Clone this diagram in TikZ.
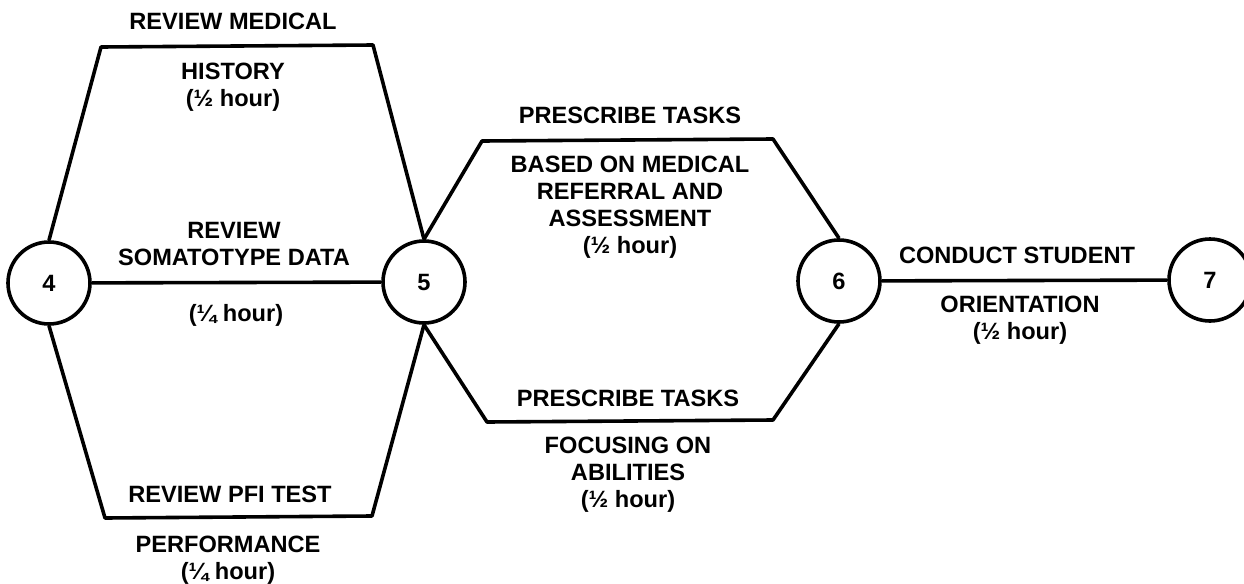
\documentclass[tikz,border=0pt]{standalone}
\usepackage{fontspec}
\setmainfont{Liberation Sans}

\begin{document}
\begin{tikzpicture}[
    x=0.5pt, y=-0.5pt,
    line width=1.8pt,
    line join=round,
    event/.style={circle, draw, minimum size=41pt, inner sep=0pt, font=\fontsize{11.8}{13.5}\selectfont\bfseries},
    act/.style={font=\fontsize{11.8}{13.5}\selectfont\bfseries, align=center, inner sep=0pt}
]

\useasboundingbox (0,0) rectangle (1244,584);

% Eventos
\node[event] (n4) at (49,283) {4};
\node[event] (n5) at (424,282) {5};
\node[event] (n6) at (839,281) {6};
\node[event] (n7) at (1210,280) {7};

% Cantos dos caminhos
\coordinate (a1) at (101,47);
\coordinate (a2) at (373,45);
\coordinate (b1) at (105,518);
\coordinate (b2) at (372,516);
\coordinate (c1) at (482,141);
\coordinate (c2) at (773,139);
\coordinate (d1) at (487,422);
\coordinate (d2) at (773,420);

% --- Atividades 4 -> 5 ---
\draw (n4.north) -- (a1) -- (a2) -- (n5.north);
\draw (n4) -- (n5);
\draw (n4.south) -- (b1) -- (b2) -- (n5.south);

% --- Atividades 5 -> 6 ---
\draw (n5.north) -- (c1) -- (c2) -- (n6.north);
\draw (n5.south) -- (d1) -- (d2) -- (n6.south);

% --- Atividade 6 -> 7 ---
\draw (n6) -- (n7);

% Textos
\node[act] (t1) at (233,21) {REVIEW MEDICAL};
\node[act] (t2) at (233,87) {HISTORY\\(½ hour)};
\node[act] (t3) at (234,244) {REVIEW\\SOMATOTYPE DATA};
\node[act] (t4) at (236,315) {(¼ hour)};
\node[act] (t5) at (230,494) {REVIEW PFI TEST};
\node[act] (t6) at (228,560) {PERFORMANCE\\(¼ hour)};

\node[act] (t7) at (630,115) {PRESCRIBE TASKS};
\node[act] (t8) at (630,207) {BASED ON MEDICAL\\REFERRAL AND\\ASSESSMENT\\(½ hour)};
\node[act] (t9) at (628,398) {PRESCRIBE TASKS};
\node[act] (t10) at (628,475) {FOCUSING ON\\ABILITIES\\(½ hour)};

\node[act] (t11) at (1017,255) {CONDUCT STUDENT};
\node[act] (t12) at (1020,320) {ORIENTATION\\(½ hour)};

\end{tikzpicture}
\end{document}
